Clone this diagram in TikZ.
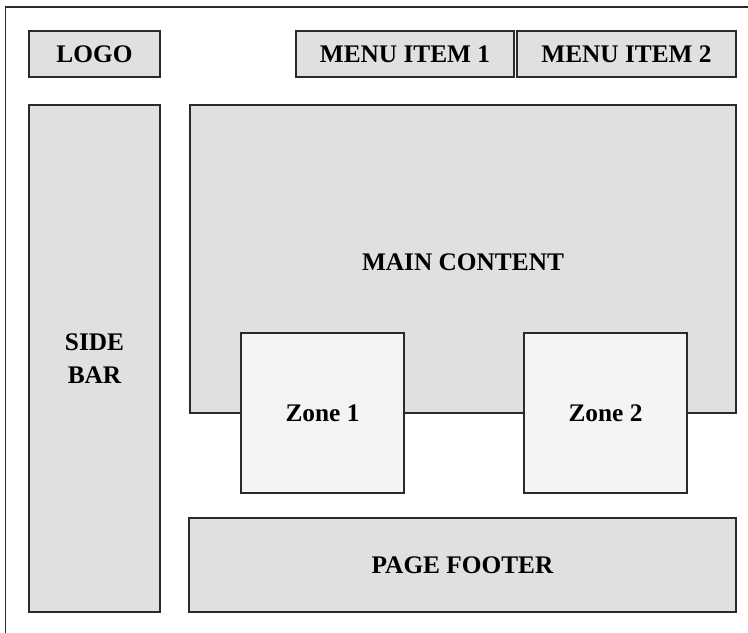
\documentclass[tikz,border=0pt]{standalone}
\usepackage{fontspec}
\setmainfont{Liberation Serif}
\usetikzlibrary{fit}
\definecolor{boxgray}{HTML}{E0E0E0}
\definecolor{zonegray}{HTML}{F4F4F4}
\definecolor{edge}{HTML}{2A2A2A}
\tikzset{
  box/.style={draw=edge, line width=1pt, fill=boxgray, inner sep=0pt},
  zonebox/.style={box, fill=zonegray},
  txt/.style={inner sep=0pt, align=center, font=\fontsize{19}{24.5}\selectfont\bfseries},
  frame/.style={draw=edge, line width=1pt}
}
\begin{document}
\begin{tikzpicture}[x=0.75pt, y=-0.75pt]
\useasboundingbox (0,0) rectangle (748,632);
\clip (0,0) rectangle (748,632);
\draw[frame] (5.5,7) rectangle (790,680);
\node[box, fit={(29,31)(160,77)}] (logo) {};
\node[txt] (logot) at (logo.center) {LOGO};
\node[box, fit={(296,31)(514,77)}] (menu1) {};
\node[txt] (menu1t) at (menu1.center) {MENU ITEM 1};
\node[box, fit={(517,31)(736,77)}] (menu2) {};
\node[txt] (menu2t) at (menu2.center) {MENU ITEM 2};
\node[box, fit={(29,105)(160,612)}] (side) {};
\node[txt] (sidet) at (side.center) {SIDE\\BAR};
\node[box, fit={(190,105)(736,413)}] (main) {};
\node[txt] (maint) at (463,262) {MAIN CONTENT};
\node[zonebox, fit={(241,333)(404,493)}] (zone1) {};
\node[txt] (zone1t) at (zone1.center) {Zone 1};
\node[zonebox, fit={(524,333)(687,493)}] (zone2) {};
\node[txt] (zone2t) at (zone2.center) {Zone 2};
\node[box, fit={(189,518)(736,612)}] (footer) {};
\node[txt] (footert) at (footer.center) {PAGE FOOTER};
\end{tikzpicture}
\end{document}
